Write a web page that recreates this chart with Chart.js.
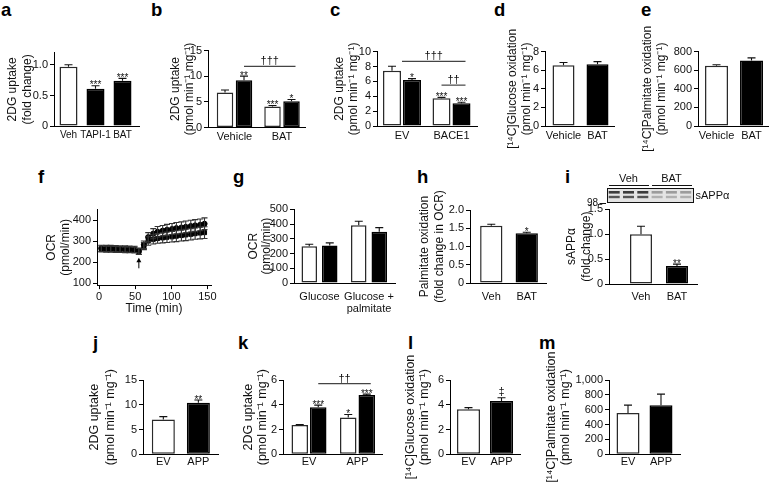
<!DOCTYPE html>
<html>
<head>
<meta charset="utf-8">
<script src="https://cdn.jsdelivr.net/npm/chart.js@4.4.1/dist/chart.umd.min.js"></script>
<style>
  html, body { margin:0; padding:0; background:#fff; }
  body { width:770px; height:483px; position:relative; overflow:hidden; font-family:"Liberation Sans", Arial, sans-serif; }
  canvas { position:absolute; }
  .letter { position:absolute; font-weight:bold; font-size:18.5px; line-height:18.5px; color:#000; }
</style>
</head>
<body>
<div class="letter" style="left:1px;top:1px">a</div>
<div class="letter" style="left:151px;top:1px">b</div>
<div class="letter" style="left:330px;top:1px">c</div>
<div class="letter" style="left:494px;top:1px">d</div>
<div class="letter" style="left:641px;top:1px">e</div>
<div class="letter" style="left:38px;top:168px">f</div>
<div class="letter" style="left:233px;top:168px">g</div>
<div class="letter" style="left:417px;top:168px">h</div>
<div class="letter" style="left:565px;top:168px">i</div>
<div class="letter" style="left:93px;top:334px">j</div>
<div class="letter" style="left:238px;top:334px">k</div>
<div class="letter" style="left:408px;top:334px">l</div>
<div class="letter" style="left:539px;top:334px">m</div>
<script>
// ================= DATA =================
const TITLE_2DG = ['2DG uptake', '(pmol min\u207B\u00B9 mg\u207B\u00B9)'];
const TITLE_UNIT = '(pmol min\u207B\u00B9 mg\u207B\u00B9)';

// a
const aCats = ['Veh', 'TAPI-1', 'BAT'];
const aVals = [0.97, 0.61, 0.74];
const aErr = [0.035, 0.05, 0.04];
const aSig = ['', '***', '***'];
const aYTicks = [0, 0.5, 1.0];
const aYLabels = ['0', '0.5', '1.0'];

// b
const bCats = ['Vehicle', 'BAT'];
const bWhite = [6.8, 4.1];
const bWhiteErr = [0.5, 0.2];
const bWhiteSig = ['', '***'];
const bBlack = [9.2, 5.1];
const bBlackErr = [0.8, 0.35];
const bBlackSig = ['**', '*'];
const bYTicks = [0, 5, 10, 15];
const bBrackets = [{ from: [0, 1], to: [1, 1], y: 11.9, text: '\u2020\u2020\u2020' }];

// c
const cCats = ['EV', 'BACE1'];
const cWhite = [7.45, 3.72];
const cWhiteErr = [0.6, 0.13];
const cWhiteSig = ['', '***'];
const cBlack = [6.2, 3.05];
const cBlackErr = [0.17, 0.15];
const cBlackSig = ['*', '***'];
const cYTicks = [0, 2, 4, 6, 8, 10];
const cBrackets = [
  { from: 0, to: [1, 1], y: 8.7, text: '\u2020\u2020\u2020' },
  { from: [1, 0], to: [1, 1], y: 5.5, text: '\u2020\u2020' }
];

// d
const dCats = ['Vehicle', 'BAT'];
const dVals = [6.55, 6.65];
const dErr = [0.28, 0.28];
const dYTicks = [0, 2, 4, 6, 8];

// e
const eCats = ['Vehicle', 'BAT'];
const eVals = [650, 705];
const eErr = [10, 28];
const eYTicks = [0, 200, 400, 600, 800];

// f (time course)
const fTime = [3, 10, 16, 23, 29, 36, 42, 49, 55, 62, 68, 75, 81, 88, 94, 101, 107, 114, 120, 127, 133, 140, 146];
const fCircle = [265, 264, 264, 263, 262, 262, 261, 260, 252, 282, 318, 335, 344, 349, 353, 357, 361, 364, 367, 371, 374, 377, 382];
const fCircleErr = [15, 15, 15, 15, 15, 15, 15, 15, 15, 18, 22, 24, 25, 25, 26, 26, 27, 27, 28, 28, 28, 28, 28];
const fSquare = [262, 261, 261, 260, 259, 258, 258, 257, 250, 276, 300, 308, 312, 315, 318, 320, 323, 326, 329, 332, 335, 338, 340];
const fSquareErr = [14, 14, 14, 14, 14, 14, 14, 14, 14, 17, 20, 22, 23, 24, 25, 25, 26, 26, 27, 27, 27, 28, 28];
const fXTicks = [0, 50, 100, 150];
const fYTicks = [100, 200, 300, 400];
const fArrow = { x: 55, from: 170, to: 220 };

// g
const gCats = ['Glucose', ['Glucose +', 'palmitate']];
const gWhite = [250, 392];
const gWhiteErr = [13, 27];
const gBlack = [255, 347];
const gBlackErr = [17, 29];
const gYTicks = [0, 100, 200, 300, 400, 500];

// h
const hCats = ['Veh', 'BAT'];
const hVals = [1.57, 1.36];
const hErr = [0.04, 0.03];
const hSig = ['', '*'];
const hYTicks = [0, 0.5, 1.0, 1.5, 2.0];
const hYLabels = ['0', '0.5', '1.0', '1.5', '2.0'];

// i
const iCats = ['Veh', 'BAT'];
const iVals = [1.0, 0.36];
const iErr = [0.16, 0.04];
const iSig = ['', '**'];
const iYTicks = [0, 0.5, 1.0, 1.5];
const iYLabels = ['0', '0.5', '1.0', '1.5'];

// j
const jCats = ['EV', 'APP'];
const jVals = [7.05, 10.4];
const jErr = [0.55, 0.55];
const jSig = ['', '**'];
const jYTicks = [0, 5, 10, 15];

// k
const kCats = ['EV', 'APP'];
const kWhite = [2.36, 2.98];
const kWhiteErr = [0.04, 0.24];
const kWhiteSig = ['', '*'];
const kBlack = [3.79, 4.78];
const kBlackErr = [0.18, 0.08];
const kBlackSig = ['***', '***'];
const kYTicks = [0, 2, 4, 6];
const kBrackets = [{ from: [0, 1], to: [1, 1], y: 5.7, text: '\u2020\u2020' }];

// l
const lCats = ['EV', 'APP'];
const lVals = [3.63, 4.3];
const lErr = [0.14, 0.27];
const lSig = ['', '\u2021'];
const lYTicks = [0, 2, 4, 6];

// m
const mCats = ['EV', 'APP'];
const mVals = [557, 660];
const mErr = [105, 150];
const mYTicks = [0, 200, 400, 600, 800, 1000];
const mYLabels = ['0', '200', '400', '600', '800', '1,000'];

// ================= LAYOUT (pixel geometry) =================
const LAYOUT = {
  a: { L: 54, R: 139, T: 52.8, B: 126, t1: 12, lh: 15, fs: 12, lblPad: 4, lblSize: 10, xmin: -0.537, xmax: 2.611, catPct: 1, barPct: 0.667 },
  b: { L: 208, R: 305, T: 50.5, B: 127.5, t1: 176, lh: 14, fs: 12, lblPad: 3, xmin: -0.558, xmax: 1.484, catPct: 0.8, barPct: 0.868 },
  c: { L: 377, R: 477, T: 51.7, B: 126, t1: 340, lh: 14, fs: 12, lblPad: 4, xmin: -0.505, xmax: 1.515, catPct: 0.808, barPct: 0.9 },
  d: { L: 545, R: 614, T: 51.7, B: 126, t1: 513, lh: 14, fs: 12, lblPad: 4, xmin: -0.544, xmax: 1.485, catPct: 1, barPct: 0.647 },
  e: { L: 698, R: 768, T: 51.7, B: 126, t1: 648, lh: 14, fs: 12, lblPad: 4, xmin: -0.529, xmax: 1.471, catPct: 1, barPct: 0.657 },
  f: { L: 97, R: 211, T: 209.5, B: 285.1, t1: 52, lh: 14, fs: 12, cb: 316 },
  g: { L: 294, R: 395, T: 209.3, B: 283, t1: 253, lh: 13, fs: 12, lblPad: 8, xmin: -0.515, xmax: 1.525, catPct: 0.828, barPct: 0.756 },
  h: { L: 470, R: 546, T: 210, B: 283, t1: 424, lh: 15, fs: 12, lblPad: 8, xmin: -0.6, xmax: 1.543, catPct: 1, barPct: 0.629 },
  i: { L: 609, R: 697, T: 209.3, B: 284, t1: 571, lh: 15, fs: 12, lblPad: 7, xmin: -0.889, xmax: 1.556, catPct: 1, barPct: 0.611, cr: 770 },
  j: { L: 143, R: 218, T: 380, B: 454.3, t1: 95, lh: 16, fs: 12.5, lblPad: 2, xmin: -0.58, xmax: 1.56, catPct: 1, barPct: 0.657 },
  k: { L: 283, R: 382, T: 380, B: 454.3, t1: 249, lh: 14, fs: 12.5, lblPad: 2, xmin: -0.536, xmax: 1.505, catPct: 0.763, barPct: 0.892 },
  l: { L: 450, R: 520, T: 380, B: 454.3, t1: 411, lh: 14, fs: 12.5, lblPad: 2, xmin: -0.56, xmax: 1.56, catPct: 1, barPct: 0.697 },
  m: { L: 609, R: 680, T: 380, B: 454.3, t1: 552, lh: 14, fs: 12.5, lblPad: 2, xmin: -0.576, xmax: 1.576, catPct: 1, barPct: 0.697 }
};

const WHITE = '#ffffff', BLACK = '#000000', EDGE = '#2a2a2a', TXT = '#111111';
Chart.defaults.font.family = '"Liberation Sans", Arial, Helvetica, sans-serif';
Chart.defaults.color = TXT;

// ================= PLUGINS =================
const errPlugin = {
  id: 'errbars',
  afterDatasetsDraw(chart) {
    const ctx = chart.ctx, ys = chart.scales.y;
    chart.data.datasets.forEach((ds, di) => {
      if (!ds.err) return;
      const meta = chart.getDatasetMeta(di);
      meta.data.forEach((el, i) => {
        const raw = ds.data[i];
        const val = (typeof raw === 'object') ? raw.y : raw;
        const e = ds.err[i];
        const yTop = ys.getPixelForValue(val + e);
        const yBot = ds.twoSided ? ys.getPixelForValue(val - e) : el.y;
        const cap = ds.twoSided ? 3 : 4;
        ctx.save();
        ctx.strokeStyle = ds.errColor || '#111';
        ctx.lineWidth = 1.1;
        ctx.beginPath();
        ctx.moveTo(el.x, yBot); ctx.lineTo(el.x, yTop);
        ctx.moveTo(el.x - cap, yTop); ctx.lineTo(el.x + cap, yTop);
        if (ds.twoSided) { ctx.moveTo(el.x - cap, yBot); ctx.lineTo(el.x + cap, yBot); }
        ctx.stroke();
        if (ds.sig && ds.sig[i]) {
          const s = ds.sig[i];
          ctx.fillStyle = TXT;
          ctx.textAlign = 'center';
          ctx.textBaseline = 'alphabetic';
          if (s.indexOf('*') >= 0) {
            ctx.font = '10px "Liberation Sans", Arial, sans-serif';
            ctx.fillText(s, el.x, yTop + 2.5);
          } else {
            ctx.font = '11px "Liberation Sans", Arial, sans-serif';
            ctx.fillText(s, el.x, yTop - 3);
          }
        }
        ctx.restore();
      });
    });
  }
};

function refX(chart, r) {
  if (Array.isArray(r)) return chart.getDatasetMeta(r[1]).data[r[0]].x;
  return chart.scales.x.getPixelForValue(r);
}
const bracketPlugin = {
  id: 'brackets',
  afterDatasetsDraw(chart, args, opts) {
    const items = (opts && opts.items) || [];
    const ctx = chart.ctx;
    items.forEach(b => {
      const x1 = refX(chart, b.from), x2 = refX(chart, b.to) + 4;
      const y = chart.scales.y.getPixelForValue(b.y);
      ctx.save();
      ctx.strokeStyle = '#444'; ctx.lineWidth = 1.2;
      ctx.beginPath(); ctx.moveTo(x1, y); ctx.lineTo(x2, y); ctx.stroke();
      ctx.fillStyle = TXT; ctx.textAlign = 'center'; ctx.textBaseline = 'alphabetic';
      ctx.font = '11px "Liberation Sans", Arial, sans-serif';
      ctx.fillText(b.text, (x1 + x2) / 2, y - 2);
      ctx.restore();
    });
  }
};
Chart.register(errPlugin, bracketPlugin);

// ================= HELPERS =================
function geom(k) {
  const p = LAYOUT[k];
  const cl = Math.round(p.t1 - p.lh / 2 - 2);
  const ct = Math.round(p.T - 45);
  const cr = Math.round(p.cr || (p.R + 30));
  const cb = Math.round(p.cb || (p.B + 48));
  return Object.assign({}, p, { cl, ct, cr, cb, yw: p.L - cl, padTop: p.T - ct, padRight: cr - p.R, xh: cb - p.B });
}
function mkCanvas(g) {
  const c = document.createElement('canvas');
  const w = g.cr - g.cl, h = g.cb - g.ct;
  c.width = w; c.height = h;
  c.style.left = g.cl + 'px'; c.style.top = g.ct + 'px';
  c.style.width = w + 'px'; c.style.height = h + 'px';
  document.body.appendChild(c);
  return c;
}
function yScale(g, min, max, ticks, labels, title) {
  return {
    type: 'linear', min: min, max: max, bounds: 'data',
    afterBuildTicks: s => { s.ticks = ticks.map(v => ({ value: v })); },
    afterFit: s => { s.width = g.yw; },
    ticks: { autoSkip: false, padding: 2, font: { size: 11 }, color: TXT,
      callback: (v, i) => (labels ? labels[i] : String(ticks[i])) },
    grid: { drawOnChartArea: false, drawTicks: true, tickLength: 4, color: '#000', lineWidth: 1 },
    border: { display: true, color: '#000', width: 1 },
    title: { display: true, text: title, color: TXT,
      font: { size: g.fs, lineHeight: g.lh + 'px' }, padding: { top: 2, bottom: 0 } }
  };
}
function xCatScale(g, cats) {
  return {
    type: 'linear', min: g.xmin, max: g.xmax, bounds: 'data', offset: false,
    afterBuildTicks: s => { s.ticks = cats.map((c, i) => ({ value: i })); },
    afterFit: s => { s.height = g.xh; },
    ticks: { autoSkip: false, maxRotation: 0, minRotation: 0, padding: g.lblPad,
      font: { size: g.lblSize || 11, lineHeight: 1.1 }, color: TXT, callback: (v, i) => cats[i] },
    grid: { display: true, drawOnChartArea: false, drawTicks: false, offset: false },
    border: { display: true, color: '#000', width: 1 }
  };
}
function barDataset(vals, err, sig, colors, g) {
  const arr = Array.isArray(colors) ? colors : vals.map(() => colors);
  return {
    data: vals.map((v, i) => ({ x: i, y: v })),
    err: err, sig: sig,
    backgroundColor: arr,
    borderColor: arr.map(c => (c === WHITE ? EDGE : BLACK)),
    borderWidth: 1.5, borderSkipped: false,
    categoryPercentage: g.catPct, barPercentage: g.barPct
  };
}
function barPanel(key, cats, datasets, yMin, yMax, yTicks, yLabels, yTitle, extra) {
  const g = geom(key);
  const canvas = mkCanvas(g);
  const dss = datasets.map(d => barDataset(d.vals, d.err, d.sig, d.colors, g));
  const cfg = {
    type: 'bar',
    data: { datasets: dss },
    options: {
      responsive: false, animation: false, devicePixelRatio: 1, events: [],
      layout: { padding: { left: 0, top: g.padTop, right: g.padRight, bottom: 0 } },
      plugins: { legend: { display: false }, tooltip: { enabled: false },
        brackets: { items: (extra && extra.brackets) || [] } },
      scales: { x: xCatScale(g, cats), y: yScale(g, yMin, yMax, yTicks, yLabels, yTitle) }
    },
    plugins: (extra && extra.plugins) || []
  };
  return new Chart(canvas, cfg);
}

// ================= PANELS =================
barPanel('a', aCats, [{ vals: aVals, err: aErr, sig: aSig, colors: [WHITE, BLACK, BLACK] }],
  0, 1.2, aYTicks, aYLabels, ['2DG uptake', '(fold change)']);

barPanel('b', bCats, [
  { vals: bWhite, err: bWhiteErr, sig: bWhiteSig, colors: WHITE },
  { vals: bBlack, err: bBlackErr, sig: bBlackSig, colors: BLACK }
], 0, 15, bYTicks, null, TITLE_2DG, { brackets: bBrackets });

barPanel('c', cCats, [
  { vals: cWhite, err: cWhiteErr, sig: cWhiteSig, colors: WHITE },
  { vals: cBlack, err: cBlackErr, sig: cBlackSig, colors: BLACK }
], 0, 10, cYTicks, null, TITLE_2DG, { brackets: cBrackets });

barPanel('d', dCats, [{ vals: dVals, err: dErr, sig: null, colors: [WHITE, BLACK] }],
  0, 8, dYTicks, null, ['[\u00B9\u2074C]Glucose oxidation', TITLE_UNIT]);

barPanel('e', eCats, [{ vals: eVals, err: eErr, sig: null, colors: [WHITE, BLACK] }],
  0, 800, eYTicks, null, ['[\u00B9\u2074C]Palmitate oxidation', TITLE_UNIT]);

// f : line chart with error bars
(function () {
  const g = geom('f');
  const canvas = mkCanvas(g);
  const arrowPlugin = {
    id: 'fArrow',
    afterDatasetsDraw(chart) {
      const ctx = chart.ctx;
      const x = chart.scales.x.getPixelForValue(fArrow.x);
      const y1 = chart.scales.y.getPixelForValue(fArrow.from);
      const y2 = chart.scales.y.getPixelForValue(fArrow.to);
      ctx.save();
      ctx.strokeStyle = '#000'; ctx.fillStyle = '#000'; ctx.lineWidth = 1;
      ctx.beginPath(); ctx.moveTo(x, y1); ctx.lineTo(x, y2 + 3); ctx.stroke();
      ctx.beginPath(); ctx.moveTo(x, y2); ctx.lineTo(x - 2.5, y2 + 4.5); ctx.lineTo(x + 2.5, y2 + 4.5); ctx.closePath(); ctx.fill();
      ctx.restore();
    }
  };
  new Chart(canvas, {
    type: 'line',
    data: {
      datasets: [
        { data: fTime.map((t, i) => ({ x: t, y: fCircle[i] })), err: fCircleErr, twoSided: true,
          pointStyle: 'circle', pointRadius: 2.6, pointBackgroundColor: '#000', pointBorderColor: '#000',
          borderColor: '#000', borderWidth: 1, tension: 0, errColor: '#333' },
        { data: fTime.map((t, i) => ({ x: t, y: fSquare[i] })), err: fSquareErr, twoSided: true,
          pointStyle: 'rect', pointRadius: 2.9, pointBackgroundColor: '#000', pointBorderColor: '#000',
          borderColor: '#000', borderWidth: 1, tension: 0, errColor: '#333' }
      ]
    },
    options: {
      responsive: false, animation: false, devicePixelRatio: 1, events: [],
      layout: { padding: { left: 0, top: g.padTop, right: g.padRight, bottom: 0 } },
      plugins: { legend: { display: false }, tooltip: { enabled: false } },
      scales: {
        x: {
          type: 'linear', min: -3, max: 155, bounds: 'data',
          afterBuildTicks: s => { s.ticks = fXTicks.map(v => ({ value: v })); },
          afterFit: s => { s.height = g.xh; },
          ticks: { autoSkip: false, maxRotation: 0, padding: 1, font: { size: 11 }, color: TXT,
            callback: (v, i) => String(fXTicks[i]) },
          grid: { drawOnChartArea: false, drawTicks: true, tickLength: 4, color: '#000' },
          border: { display: true, color: '#000', width: 1 },
          title: { display: true, text: 'Time (min)', color: TXT, font: { size: 12 }, padding: { top: 2, bottom: 0 } }
        },
        y: yScale(g, 90, 450, fYTicks, null, ['OCR', '(pmol/min)'])
      }
    },
    plugins: [arrowPlugin]
  });
})();

barPanel('g', gCats, [
  { vals: gWhite, err: gWhiteErr, sig: null, colors: WHITE },
  { vals: gBlack, err: gBlackErr, sig: null, colors: BLACK }
], 0, 500, gYTicks, null, ['OCR', '(pmol/min)']);

barPanel('h', hCats, [{ vals: hVals, err: hErr, sig: hSig, colors: [WHITE, BLACK] }],
  0, 2.0, hYTicks, hYLabels, ['Palmitate oxidation', '(fold change in OCR)']);

// i with western blot decoration
(function () {
  const g = geom('i');
  const blotPlugin = {
    id: 'blot',
    afterDraw(chart) {
      const ctx = chart.ctx;
      const ox = g.cl, oy = g.ct;
      const X = v => v - ox, Y = v => v - oy;
      ctx.save();
      ctx.fillStyle = TXT;
      ctx.font = '11px "Liberation Sans", Arial, sans-serif';
      ctx.textAlign = 'center'; ctx.textBaseline = 'middle';
      ctx.fillText('Veh', X(628.5), Y(179));
      ctx.fillText('BAT', X(671.5), Y(179));
      ctx.strokeStyle = '#111'; ctx.lineWidth = 1;
      ctx.beginPath();
      ctx.moveTo(X(609), Y(185.5)); ctx.lineTo(X(649), Y(185.5));
      ctx.moveTo(X(652), Y(185.5)); ctx.lineTo(X(692), Y(185.5));
      ctx.stroke();
      // blot box
      ctx.fillStyle = '#e4e4e4';
      ctx.fillRect(X(607), Y(188), 86, 14);
      const lanes = 6;
      for (let k = 0; k < lanes; k++) {
        const cx = 607 + 7.2 + k * 14.3;
        ctx.fillStyle = k < 3 ? '#3c3c3c' : '#9c9c9c';
        ctx.fillRect(X(cx - 5.5), Y(191), 11, 2.6);
        ctx.fillStyle = k < 3 ? '#555' : '#b0b0b0';
        ctx.fillRect(X(cx - 5.5), Y(195.8), 11, 2.4);
      }
      ctx.strokeStyle = '#111'; ctx.lineWidth = 1;
      ctx.strokeRect(X(607) + 0.5, Y(188) + 0.5, 86, 14);
      ctx.font = '10px "Liberation Sans", Arial, sans-serif';
      ctx.textAlign = 'right'; ctx.fillStyle = TXT;
      ctx.fillText('98', X(598), Y(203.5));
      ctx.beginPath(); ctx.moveTo(X(599.5), Y(203.5)); ctx.lineTo(X(606), Y(203.5)); ctx.stroke();
      ctx.font = '11px "Liberation Sans", Arial, sans-serif';
      ctx.textAlign = 'left';
      ctx.fillText('sAPP\u03B1', X(695.5), Y(196));
      ctx.restore();
    }
  };
  const canvas = mkCanvas(g);
  const dss = [barDataset(iVals, iErr, iSig, [WHITE, BLACK], g)];
  new Chart(canvas, {
    type: 'bar',
    data: { datasets: dss },
    options: {
      responsive: false, animation: false, devicePixelRatio: 1, events: [],
      layout: { padding: { left: 0, top: g.padTop, right: g.padRight, bottom: 0 } },
      plugins: { legend: { display: false }, tooltip: { enabled: false } },
      scales: { x: xCatScale(g, iCats), y: yScale(g, 0, 1.5, iYTicks, iYLabels, ['sAPP\u03B1', '(fold change)']) }
    },
    plugins: [blotPlugin]
  });
})();

barPanel('j', jCats, [{ vals: jVals, err: jErr, sig: jSig, colors: [WHITE, BLACK] }],
  0, 15, jYTicks, null, TITLE_2DG);

barPanel('k', kCats, [
  { vals: kWhite, err: kWhiteErr, sig: kWhiteSig, colors: WHITE },
  { vals: kBlack, err: kBlackErr, sig: kBlackSig, colors: BLACK }
], 0, 6, kYTicks, null, TITLE_2DG, { brackets: kBrackets });

barPanel('l', lCats, [{ vals: lVals, err: lErr, sig: lSig, colors: [WHITE, BLACK] }],
  0, 6, lYTicks, null, ['[\u00B9\u2074C]Glucose oxidation', TITLE_UNIT]);

barPanel('m', mCats, [{ vals: mVals, err: mErr, sig: null, colors: [WHITE, BLACK] }],
  0, 1000, mYTicks, mYLabels, ['[\u00B9\u2074C]Palmitate oxidation', TITLE_UNIT]);
</script>
</body>
</html>
